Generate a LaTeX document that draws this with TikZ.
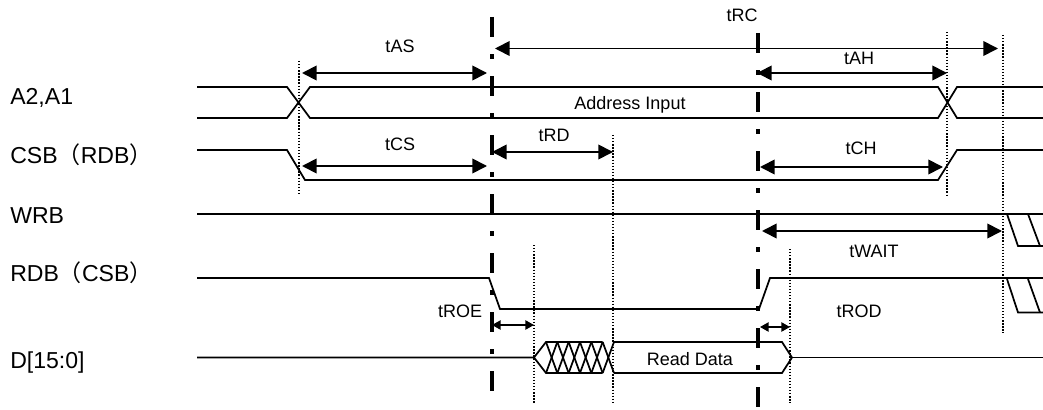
\documentclass[tikz,border=0pt]{standalone}
\usepackage{fontspec}
\setmainfont{Liberation Sans}
\newfontfamily\cjk{Noto Sans CJK SC}
\usetikzlibrary{arrows.meta}
\begin{document}
\begin{tikzpicture}[x=0.75pt,y=-0.75pt,
  sig/.style={line width=1.3pt, line join=miter},
  dim/.style={line width=1.3pt, {Triangle[length=11pt,width=11pt]}-{Triangle[length=11pt,width=11pt]}},
  dimsmall/.style={line width=1.1pt, {Triangle[length=6.5pt,width=7pt]}-{Triangle[length=6.5pt,width=7pt]}},
  guide/.style={line width=1pt, dash pattern=on 1pt off 1.3pt},
  refline/.style={line width=3.4pt, dash pattern=on 15pt off 12.94pt on 3.375pt off 12.94pt},
  lbl/.style={font=\fontsize{13.5}{16}\selectfont, inner sep=0pt, anchor=base},
  signame/.style={font=\fontsize{17.3}{20}\selectfont, inner sep=0pt, anchor=base west},
]
\useasboundingbox (0,0) rectangle (1043,410);

% signal names
\node[signame] (nA) at (10,105) {A2,A1};
\node[signame] (nC) at (10,163) {CSB{\cjk （}RDB{\cjk ）}};
\node[signame] (nW) at (10,223) {WRB};
\node[signame] (nR) at (10,281) {RDB{\cjk （}CSB{\cjk ）}};
\node[signame] (nD) at (10,368) {D[15:0]};

% dotted guides
\draw[guide] (299,61) -- (299,195);
\draw[guide] (613,135) -- (613,403);
\draw[guide] (534,245) -- (534,403);
\draw[guide] (790,249) -- (790,403);
\draw[guide] (947,32) -- (947,197);
\draw[guide] (1003,35) -- (1003,333);

% A2,A1
\draw[sig] (197,87) -- (287,87) -- (310,118) -- (938,118) -- (957,87) -- (1043,87);
\draw[sig] (197,118) -- (287,118) -- (310,87) -- (938,87) -- (957,118) -- (1043,118);
% CSB
\draw[sig] (197,150) -- (287,150) -- (305,180) -- (938,180) -- (957,150) -- (1043,150);
% WRB
\draw[sig] (197,214) -- (1043,214);
\draw[sig] (1007,214) -- (1018,246) -- (1043,246);
\draw[sig] (1028,214) -- (1040,246);
% RDB
\draw[sig] (197,278) -- (489,278) -- (500,309) -- (759,309) -- (770,278) -- (1043,278);
\draw[sig] (1007,279) -- (1018,312.5) -- (1043,312.5);
\draw[sig] (1028,279) -- (1040,312.5);
% D[15:0]
\draw[sig] (197,357.5) -- (534,357.5) -- (546,342) -- (602.6,342);
\draw[sig] (534,357.5) -- (546,373) -- (602.6,373);
\foreach \i in {0,...,5}{
  \pgfmathsetmacro{\xa}{546+11.33*\i}
  \pgfmathsetmacro{\xb}{546+11.33*(\i+1)}
  \draw[sig] (\xa,342) -- (\xb,373);
  \draw[sig] (\xa,373) -- (\xb,342);
}
\draw[sig] (614,342) -- (782,342) -- (792,357.5) -- (782,373) -- (614,373);
\draw[sig] (792,357.5) -- (1043,357.5);

% reference dash-dot lines
\draw[refline] (492,17) -- (492,392);
\draw[refline] (758,33) -- (758,407);

% dimension arrows
\draw[dim] (302,73) -- (487,73);
\draw[dim] (495,48.5) -- (998,48.5);
\draw[dim] (757,73) -- (947,73);
\draw[dim] (302,166) -- (487,166);
\draw[dim] (492,152) -- (613,152);
\draw[dim] (760,167) -- (943,167);
\draw[dim] (762,231) -- (1002,231);
\draw[dimsmall] (492,325) -- (534,325);
\draw[dimsmall] (760,327) -- (790,327);

% labels
\node[lbl] (lAS) at (400,53) {tAS};
\node[lbl] (lRC) at (742,22) {tRC};
\node[lbl] (lAH) at (859,65) {tAH};
\node[lbl] (lAI) at (630,110) {Address Input};
\node[lbl] (lCS) at (400,151) {tCS};
\node[lbl] (lRD) at (554,142) {tRD};
\node[lbl] (lCH) at (861,155) {tCH};
\node[lbl] (lWT) at (874,257) {tWAIT};
\node[lbl] (lOE) at (460,317) {tROE};
\node[lbl] (lOD) at (859,317) {tROD};
\node[lbl] (lRDt) at (690,365) {Read Data};
\end{tikzpicture}
\end{document}
